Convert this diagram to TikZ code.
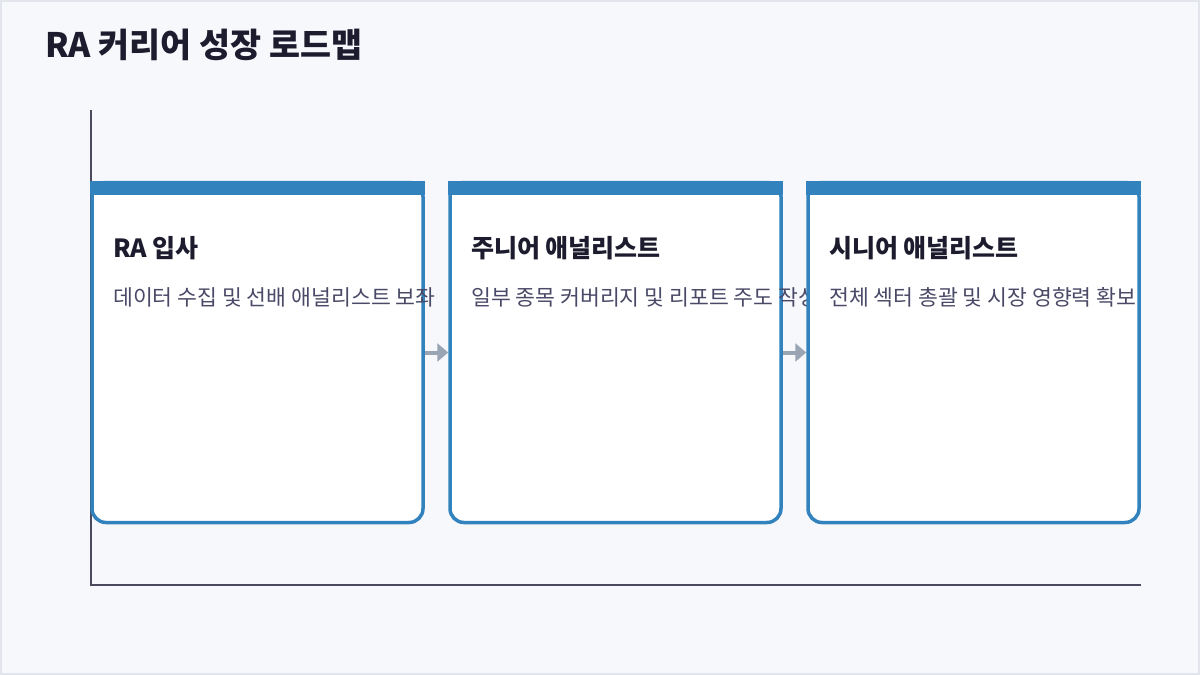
\documentclass[tikz,border=0pt]{standalone}
\usepackage{fontspec}
\newfontfamily\kr{Noto Sans CJK KR}
\usetikzlibrary{arrows.meta,calc}
\definecolor{bgc}{HTML}{F7F8FC}
\definecolor{framec}{HTML}{E2E5EC}
\definecolor{axisc}{HTML}{4A4A5E}
\definecolor{boxc}{HTML}{3182BD}
\definecolor{titlec}{HTML}{1C1C2E}
\definecolor{descc}{HTML}{4A4A68}
\definecolor{arrowc}{HTML}{9AA5B4}
\pgfdeclarelayer{bglayer}
\pgfdeclarelayer{midlayer}
\pgfsetlayers{bglayer,midlayer,main}
\tikzset{
  stagebox/.style={rectangle, draw=boxc, line width=3.5pt, fill=white, rounded corners=14pt,
    minimum width=331pt, minimum height=340pt, inner sep=0pt},
  topbar/.style={fill=boxc},
  stagetitle/.style={anchor=base west, inner sep=0pt, font=\kr\bfseries\fontsize{25}{29}\selectfont, text=titlec},
  stagedesc/.style={anchor=base west, inner sep=0pt, font=\kr\fontsize{21.6}{25}\selectfont, text=descc},
  axisline/.style={draw=axisc, line width=2pt},
  flow/.style={draw=arrowc, line width=4pt, -{Triangle[length=11pt,width=18pt]}},
}
\begin{document}
\begin{tikzpicture}[x=1pt,y=-1pt]
\useasboundingbox (0,0) rectangle (1200,675);
\begin{pgfonlayer}{bglayer}
  \fill[bgc] (0,0) rectangle (1200,675);
  \draw[framec, line width=2pt] (1,1) rectangle (1199,674);
  \coordinate (ytop) at (91,110);
  \coordinate (origin) at (91,585);
  \coordinate (xend) at (1141,585);
  \draw[axisline] (ytop) -- (origin) -- (xend);
\end{pgfonlayer}
\node[anchor=base west, inner sep=0pt, font=\kr\bfseries\fontsize{33.7}{38}\selectfont, text=titlec] (title) at (45,57) {RA 커리어 성장 로드맵};

% box 1
\node[stagebox] (b1) at (257.5,352.5) {};
\fill[topbar] (b1.north west) rectangle ($(b1.north east)+(0,14.5)$);
\node[stagetitle] (t1) at (113,257) {RA 입사};
\node[stagedesc] (d1) at (113,305) {데이터 수집 및 선배 애널리스트 보좌};
% box 2
\node[stagebox] (b2) at (615.5,352.5) {};
\fill[topbar] (b2.north west) rectangle ($(b2.north east)+(0,14.5)$);
\node[stagetitle] (t2) at (471,257) {주니어 애널리스트};
\node[stagedesc] (d2) at (471,305) {일부 종목 커버리지 및 리포트 주도 작성};
% box 3
\node[stagebox] (b3) at (973.5,352.5) {};
\fill[topbar] (b3.north west) rectangle ($(b3.north east)+(0,14.5)$);
\node[stagetitle] (t3) at (829,257) {시니어 애널리스트};
\node[stagedesc] (d3) at (829,305) {전체 섹터 총괄 및 시장 영향력 확보};

\begin{pgfonlayer}{midlayer}
  \draw[flow] (b1.east) -- (b2.west);
  \draw[flow] (b2.east) -- (b3.west);
\end{pgfonlayer}
\end{tikzpicture}
\end{document}
